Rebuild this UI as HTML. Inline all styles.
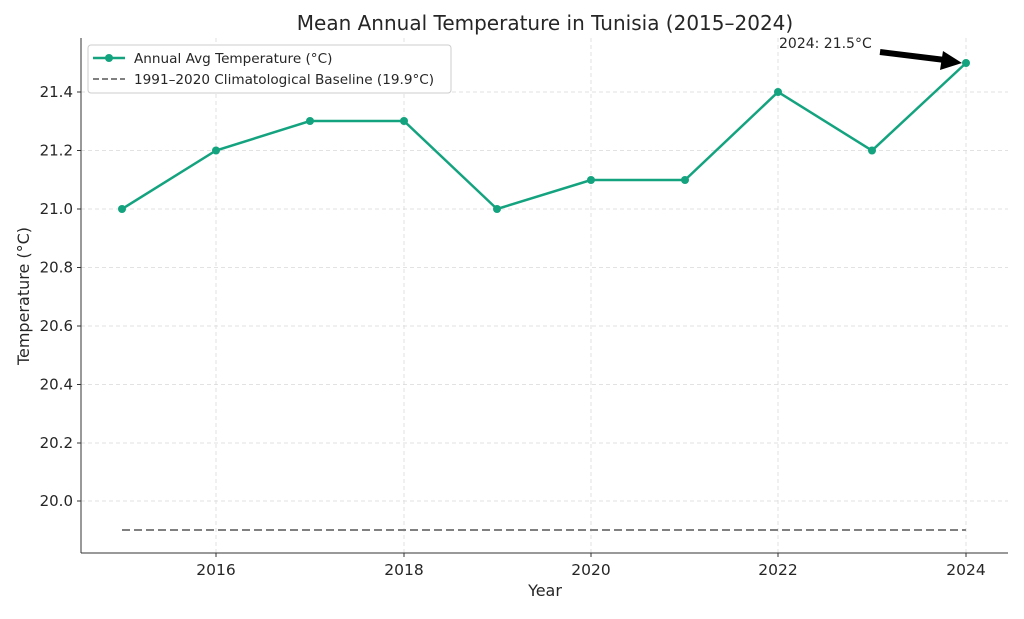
<!DOCTYPE html>
<html><head><meta charset="utf-8"><style>
body{margin:0;background:#fff;}
svg text{font-family:"DejaVu Sans","Liberation Sans",sans-serif;fill:#262626;}
</style></head><body>
<svg width="1024" height="614" xmlns="http://www.w3.org/2000/svg">
<rect width="1024" height="614" fill="#fff"/>
<g stroke="#d9d9d9" stroke-dasharray="4,3" stroke-width="0.8">
<line x1="216" y1="38" x2="216" y2="553"/><line x1="404" y1="38" x2="404" y2="553"/>
<line x1="591" y1="38" x2="591" y2="553"/><line x1="778" y1="38" x2="778" y2="553"/>
<line x1="966" y1="38" x2="966" y2="553"/>
<line x1="81" y1="92" x2="1008" y2="92"/><line x1="81" y1="150.5" x2="1008" y2="150.5"/>
<line x1="81" y1="209" x2="1008" y2="209"/><line x1="81" y1="267.5" x2="1008" y2="267.5"/>
<line x1="81" y1="326" x2="1008" y2="326"/><line x1="81" y1="384.5" x2="1008" y2="384.5"/>
<line x1="81" y1="443" x2="1008" y2="443"/><line x1="81" y1="501" x2="1008" y2="501"/>
</g>
<line x1="81" y1="38" x2="81" y2="553" stroke="#333" stroke-width="1"/>
<line x1="81" y1="553" x2="1008" y2="553" stroke="#333" stroke-width="1"/>
<g stroke="#333"><line x1="216" y1="553" x2="216" y2="557"/><line x1="404" y1="553" x2="404" y2="557"/><line x1="591" y1="553" x2="591" y2="557"/><line x1="778" y1="553" x2="778" y2="557"/><line x1="966" y1="553" x2="966" y2="557"/>
<line x1="77" y1="92" x2="81" y2="92"/><line x1="77" y1="150.5" x2="81" y2="150.5"/><line x1="77" y1="209" x2="81" y2="209"/><line x1="77" y1="267.5" x2="81" y2="267.5"/><line x1="77" y1="326" x2="81" y2="326"/><line x1="77" y1="384.5" x2="81" y2="384.5"/><line x1="77" y1="443" x2="81" y2="443"/><line x1="77" y1="501" x2="81" y2="501"/></g>
<g font-size="15.5" text-anchor="middle"><text x="216" y="575">2016</text><text x="404" y="575">2018</text><text x="591" y="575">2020</text><text x="778" y="575">2022</text><text x="966" y="575">2024</text></g>
<g font-size="15" text-anchor="end"><text x="73" y="97">21.4</text><text x="73" y="155.5">21.2</text><text x="73" y="214">21.0</text><text x="73" y="272.5">20.8</text><text x="73" y="331">20.6</text><text x="73" y="389.5">20.4</text><text x="73" y="448">20.2</text><text x="73" y="506">20.0</text></g>
<text x="545" y="596" font-size="16" text-anchor="middle">Year</text>
<text x="29" y="296" font-size="16" text-anchor="middle" transform="rotate(-90 29 296)">Temperature (°C)</text>
<text x="545" y="30" font-size="20" text-anchor="middle">Mean Annual Temperature in Tunisia (2015–2024)</text>
<line x1="122" y1="530" x2="966" y2="530" stroke="#808080" stroke-width="2" stroke-dasharray="8,4"/>
<polyline fill="none" stroke="#14a37f" stroke-width="2.5" points="122,209 216,150.5 310,121 404,121 497,209 591,180 685,180 778,92 872,150.5 966,63"/>
<g fill="#14a37f"><circle cx="122" cy="209" r="4"/><circle cx="216" cy="150.5" r="4"/><circle cx="310" cy="121" r="4"/><circle cx="404" cy="121" r="4"/><circle cx="497" cy="209" r="4"/><circle cx="591" cy="180" r="4"/><circle cx="685" cy="180" r="4"/><circle cx="778" cy="92" r="4"/><circle cx="872" cy="150.5" r="4"/><circle cx="966" cy="63" r="4"/></g>
<text x="779" y="48" font-size="14">2024: 21.5°C</text>
<line x1="880" y1="52" x2="945" y2="60" stroke="#000" stroke-width="6"/>
<polygon points="962,63 940,70 943,51" fill="#000"/>
<rect x="88" y="45" width="363" height="48" rx="3" fill="#fff" stroke="#ccc"/>
<line x1="93" y1="58" x2="125" y2="58" stroke="#14a37f" stroke-width="2.5"/><circle cx="109" cy="58" r="4" fill="#14a37f"/>
<text x="134" y="63" font-size="13.6">Annual Avg Temperature (°C)</text>
<line x1="93" y1="79" x2="125" y2="79" stroke="#808080" stroke-width="2" stroke-dasharray="6,3"/>
<text x="134" y="84" font-size="13.6">1991–2020 Climatological Baseline (19.9°C)</text>
</svg>
</body></html>
